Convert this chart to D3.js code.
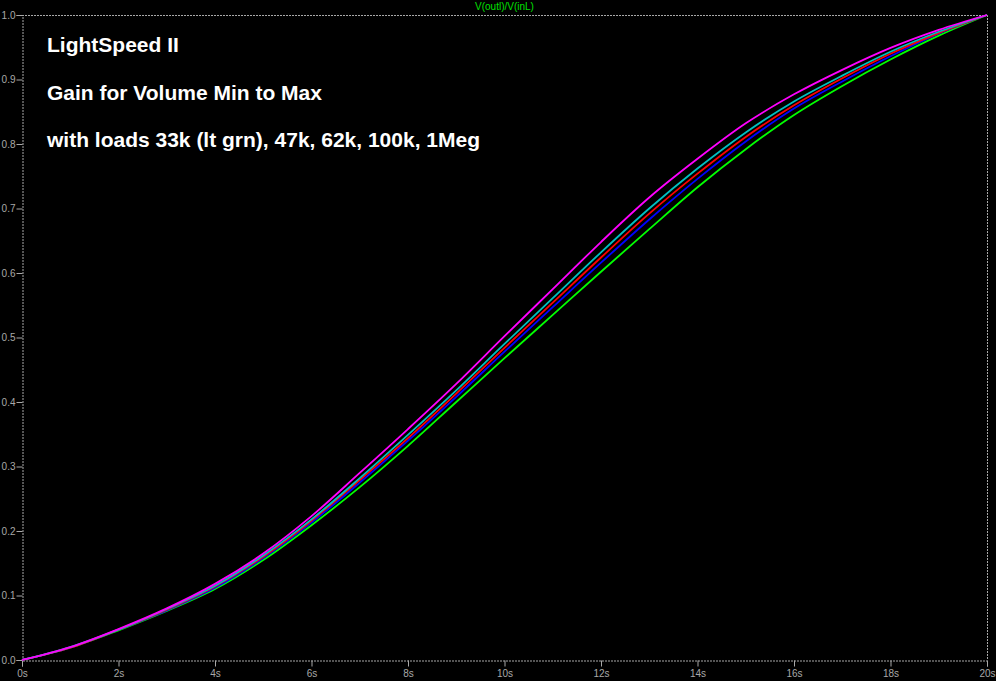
<!DOCTYPE html>
<html><head><meta charset="utf-8">
<script src="https://cdn.jsdelivr.net/npm/d3@7"></script>
<style>
html,body{margin:0;padding:0;background:#000;}
svg{display:block;}
</style></head>
<body>
<svg id="c" width="996" height="681"></svg>
<script>
const times = [0,1,2,3,4,5,6,7,8,9,10,11,12,13,14,15,16,17,18,19,20];
const load1Meg = [0,0.020,0.048,0.080,0.118,0.165,0.223,0.290,0.358,0.428,0.502,0.575,0.648,0.717,0.777,0.832,0.877,0.915,0.949,0.977,1.0];
const load100k = [0,0.020,0.047,0.079,0.115,0.162,0.218,0.282,0.349,0.418,0.490,0.561,0.632,0.700,0.762,0.818,0.866,0.906,0.943,0.974,1.0];
const load62k  = [0,0.019,0.047,0.078,0.114,0.160,0.216,0.279,0.344,0.413,0.484,0.554,0.624,0.692,0.754,0.811,0.860,0.902,0.940,0.972,1.0];
const load47k  = [0,0.019,0.047,0.077,0.112,0.158,0.213,0.275,0.340,0.408,0.478,0.547,0.616,0.683,0.746,0.804,0.855,0.897,0.936,0.971,1.0];
const load33k  = [0,0.019,0.046,0.076,0.110,0.155,0.209,0.268,0.332,0.400,0.468,0.535,0.602,0.668,0.733,0.792,0.845,0.890,0.931,0.968,1.0];
const seriesNames = ["33k","47k","62k","100k","1Meg"];
const seriesColors = ["#00ff00","#0000ff","#ff0000","#00c0c0","#ff00ff"];
const seriesValues = [load33k, load47k, load62k, load100k, load1Meg];
const xTicks = [0,2,4,6,8,10,12,14,16,18,20];
const yTicks = [0,0.1,0.2,0.3,0.4,0.5,0.6,0.7,0.8,0.9,1.0];
const titleLines = ["LightSpeed II","Gain for Volume Min to Max","with loads 33k (lt grn), 47k, 62k, 100k, 1Meg"];
const traceLabel = "V(outl)/V(inL)";

const svg = d3.select("#c");
const L=22, R=987, T=15, B=660;
const x = d3.scaleLinear().domain([0,20]).range([L,R]);
const y = d3.scaleLinear().domain([0,1]).range([B,T]);

svg.append("rect").attr("width",996).attr("height",681).attr("fill","#000");

const axisColor="#a8a8a8";
const fontAx = "10px 'Liberation Sans', Arial, sans-serif";

// frame
const frame = svg.append("g").attr("stroke",axisColor).attr("stroke-width",1).attr("stroke-dasharray","2,1").attr("fill","none");
frame.append("line").attr("x1",L).attr("x2",R).attr("y1",T+0.5).attr("y2",T+0.5);
frame.append("line").attr("x1",R+0.5).attr("x2",R+0.5).attr("y1",T).attr("y2",B);

const gx = svg.append("g").attr("transform",`translate(0,${B+0.5})`)
  .call(d3.axisBottom(x).tickValues(xTicks).tickSize(6).tickPadding(3).tickFormat(d=>d+"s"));
const gy = svg.append("g").attr("transform",`translate(${L+0.5},0)`)
  .call(d3.axisLeft(y).tickValues(yTicks).tickSize(6).tickPadding(1).tickFormat(d3.format(".1f")));
[gx,gy].forEach(g=>{
  g.select(".domain").attr("stroke",axisColor).attr("stroke-dasharray","2,1");
  g.selectAll(".tick line").attr("stroke",axisColor);
  g.selectAll(".tick text").attr("fill",axisColor).style("font",fontAx);
});

// traces
const line = d3.line().x((d,i)=>x(times[i])).y(d=>y(d)).curve(d3.curveMonotoneX);
svg.append("g").selectAll("path").data(seriesValues).join("path")
  .attr("d",line).attr("fill","none")
  .attr("stroke",(d,i)=>seriesColors[i]).attr("stroke-width",1.8);

// trace label
svg.append("text").attr("x",(L+R)/2).attr("y",10).attr("text-anchor","middle")
  .attr("fill","#00e000").style("font","10px 'Liberation Sans', Arial, sans-serif").text(traceLabel);

// annotation text
svg.append("g").selectAll("text").data(titleLines).join("text")
  .attr("x",47).attr("y",(d,i)=>52+i*47.5)
  .attr("fill","#fff")
  .style("font","bold 21px 'Liberation Sans', Arial, sans-serif")
  .text(d=>d);
</script>
</body></html>
